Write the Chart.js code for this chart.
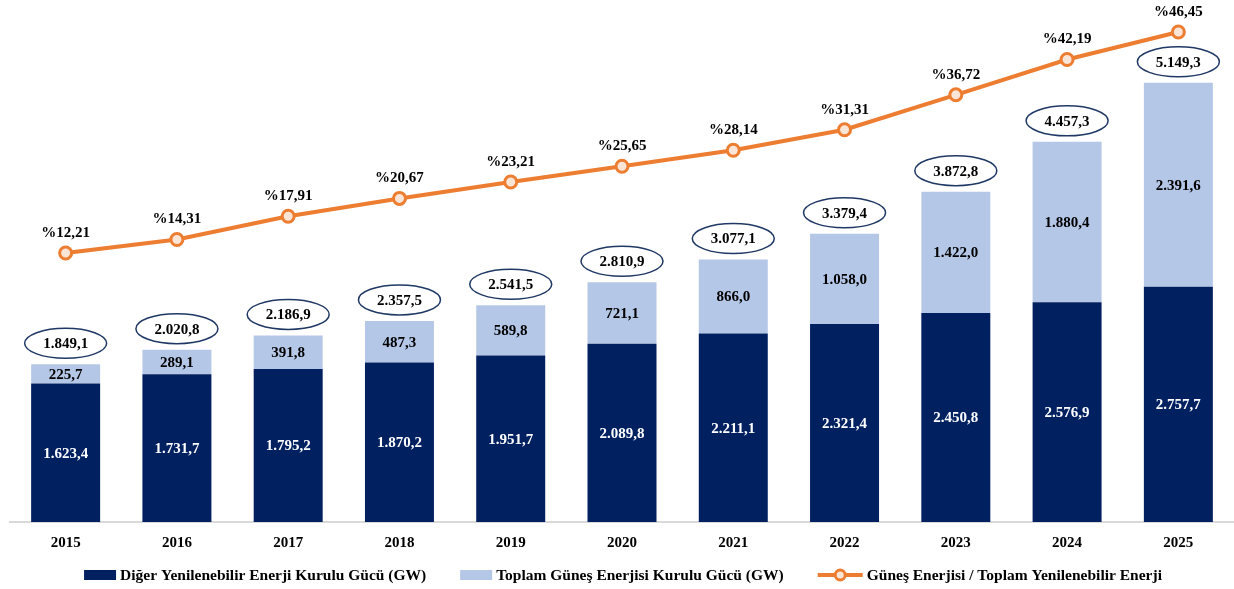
<!DOCTYPE html>
<html lang="tr">
<head>
  <meta charset="UTF-8" />
  <title>Güneş Enerjisi Kurulu Gücü</title>
  <script src="https://cdn.jsdelivr.net/npm/chart.js"></script>
  <style>
    html, body { margin: 0; padding: 0; background: #fff; }
    #wrap { width: 1234px; height: 589px; position: relative; }
  </style>
</head>
<body>
  <div id="wrap"><canvas id="chart"></canvas></div>
  <script>
    const years = ['2015', '2016', '2017', '2018', '2019', '2020', '2021', '2022', '2023', '2024', '2025'];
    const digerYenilenebilir = [1623.4, 1731.7, 1795.2, 1870.2, 1951.7, 2089.8, 2211.1, 2321.4, 2450.8, 2576.9, 2757.7];
    const gunesToplam = [225.7, 289.1, 391.8, 487.3, 589.8, 721.1, 866.0, 1058.0, 1422.0, 1880.4, 2391.6];
    const toplamlar = [1849.1, 2020.8, 2186.9, 2357.5, 2541.5, 2810.9, 3077.1, 3379.4, 3872.8, 4457.3, 5149.3];
    const gunesOrani = [12.21, 14.31, 17.91, 20.67, 23.21, 25.65, 28.14, 31.31, 36.72, 42.19, 46.45];
    const seriesNames = [
      'Diğer Yenilenebilir Enerji Kurulu Gücü (GW)',
      'Toplam Güneş Enerjisi Kurulu Gücü (GW)',
      'Güneş Enerjisi / Toplam Yenilenebilir Enerji'
    ];

    const NAVY = '#002060';
    const LIGHT = '#b4c7e7';
    const ORANGE = '#ed7d31';
    const PT_FILL = '#fbe5d6';
    const FONT = '"Liberation Serif", "Times New Roman", serif';

    // 1623.4 -> "1.623,4"
    function trNum(v, digits) {
      const parts = v.toFixed(digits).split('.');
      parts[0] = parts[0].replace(/\B(?=(\d{3})+(?!\d))/g, '.');
      return parts.join(',');
    }

    const labelPlugin = {
      id: 'labelPlugin',
      afterDatasetsDraw(chart) {
        const ctx = chart.ctx;
        const dark = chart.getDatasetMeta(0).data;
        const light = chart.getDatasetMeta(1).data;
        const line = chart.getDatasetMeta(2).data;
        ctx.save();
        ctx.textAlign = 'center';
        ctx.textBaseline = 'middle';
        ctx.font = 'bold 15px ' + FONT;
        dark.forEach((bar, i) => {
          ctx.fillStyle = '#ffffff';
          ctx.fillText(trNum(digerYenilenebilir[i], 1), bar.x, (bar.y + bar.base) / 2 + 1);
        });
        light.forEach((bar, i) => {
          ctx.fillStyle = '#000000';
          ctx.fillText(trNum(gunesToplam[i], 1), bar.x, (bar.y + bar.base) / 2 + 1);
          const cy = bar.y - 21;
          ctx.strokeStyle = '#1f3864';
          ctx.lineWidth = 1.5;
          ctx.beginPath();
          ctx.ellipse(bar.x, cy, 41, 15, 0, 0, Math.PI * 2);
          ctx.stroke();
          ctx.fillText(trNum(toplamlar[i], 1), bar.x, cy + 1);
        });
        line.forEach((pt, i) => {
          ctx.fillText('%' + trNum(gunesOrani[i], 2), pt.x, pt.y - 20);
        });
        ctx.restore();
      }
    };

    // legend drawn by hand so the markers look like the office one
    const legendPlugin = {
      id: 'customLegend',
      afterDraw(chart) {
        const ctx = chart.ctx;
        const y = 575;
        const gapAfterMark = 4, gapItems = 34;
        const markW = [32, 32, 45];
        ctx.save();
        ctx.font = 'bold 15.5px ' + FONT;
        const textW = seriesNames.map(t => ctx.measureText(t).width);
        let total = 0;
        for (let i = 0; i < 3; i++) total += markW[i] + gapAfterMark + textW[i];
        total += gapItems * 2;
        let x = chart.width / 2 + 6 - total / 2;
        ctx.textBaseline = 'middle';
        ctx.textAlign = 'left';
        for (let i = 0; i < 3; i++) {
          if (i < 2) {
            ctx.fillStyle = i === 0 ? NAVY : LIGHT;
            ctx.fillRect(x, y - 5, 32, 10);
          } else {
            ctx.strokeStyle = ORANGE;
            ctx.lineWidth = 4;
            ctx.beginPath(); ctx.moveTo(x, y); ctx.lineTo(x + 45, y); ctx.stroke();
            ctx.fillStyle = PT_FILL; ctx.lineWidth = 3;
            ctx.beginPath(); ctx.arc(x + 22.5, y, 5, 0, Math.PI * 2); ctx.fill(); ctx.stroke();
          }
          x += markW[i] + gapAfterMark;
          ctx.fillStyle = '#000';
          ctx.fillText(seriesNames[i], x, y + 1);
          x += textW[i] + gapItems;
        }
        ctx.restore();
      }
    };

    new Chart(document.getElementById('chart'), {
      type: 'bar',
      data: {
        labels: years,
        datasets: [
          {
            label: seriesNames[0],
            data: digerYenilenebilir,
            backgroundColor: NAVY,
            yAxisID: 'y',
            stack: 's',
            order: 2,
            barPercentage: 0.62,
            categoryPercentage: 1
          },
          {
            label: seriesNames[1],
            data: gunesToplam,
            backgroundColor: LIGHT,
            yAxisID: 'y',
            stack: 's',
            order: 2,
            barPercentage: 0.62,
            categoryPercentage: 1
          },
          {
            type: 'line',
            label: seriesNames[2],
            data: gunesOrani,
            yAxisID: 'y1',
            borderColor: ORANGE,
            borderWidth: 4,
            pointRadius: 6,
            pointBorderWidth: 3,
            pointBackgroundColor: PT_FILL,
            pointBorderColor: ORANGE,
            tension: 0,
            order: 0
          }
        ]
      },
      options: {
        responsive: true,
        maintainAspectRatio: false,
        animation: false,
        layout: { autoPadding: false, padding: { left: 10, right: -1, top: 0, bottom: 37 } },
        plugins: {
          tooltip: { enabled: false },
          legend: { display: false }
        },
        scales: {
          x: {
            stacked: true,
            grid: { display: false },
            border: { display: true, color: '#d9d9d9', width: 2 },
            ticks: { color: '#000', padding: 4, font: { family: FONT, size: 15, weight: 'bold' } },
            afterFit(scale) { scale.height = 30; }
          },
          y: {
            stacked: true,
            display: false,
            min: 0,
            max: 6120
          },
          y1: {
            display: false,
            min: -29.46,
            max: 51.41
          }
        }
      },
      plugins: [labelPlugin, legendPlugin]
    });
  </script>
</body>
</html>
